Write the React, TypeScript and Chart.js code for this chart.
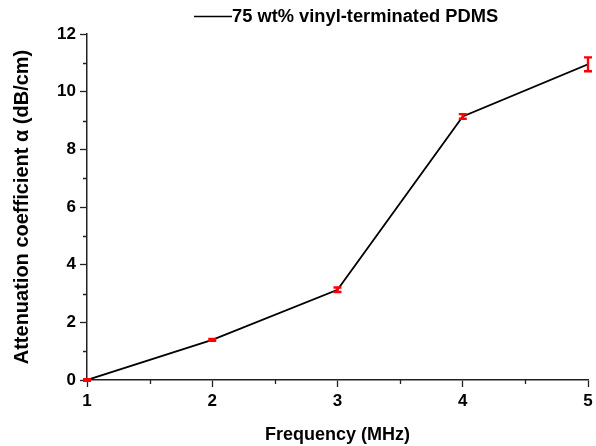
import React, { useEffect, useRef } from "react";
import { Chart, registerables } from "chart.js";

Chart.register(...registerables);

const frequencies = [1, 2, 3, 4, 5];
const attenuation = [0.0, 1.39, 3.13, 9.14, 10.95];
const errors = [0.03, 0.03, 0.08, 0.08, 0.24];
const xTicks = [1, 2, 3, 4, 5];
const yTicks = [0, 2, 4, 6, 8, 10, 12];
const legendLabel = "75 wt% vinyl-terminated PDMS";
const xTitle = "Frequency (MHz)";
const yTitle = "Attenuation coefficient \u03B1 (dB/cm)";

const FONT = "'Liberation Sans', Arial, sans-serif";

const errorBarPlugin = {
  id: "errorBars",
  afterDatasetsDraw(chart: any) {
    const ctx = chart.ctx;
    const xs = chart.scales.x;
    const ys = chart.scales.y;
    ctx.save();
    ctx.strokeStyle = "#ff0000";
    ctx.lineWidth = 2.4;
    frequencies.forEach((f, i) => {
      const px = xs.getPixelForValue(f);
      const top = ys.getPixelForValue(attenuation[i] + errors[i]);
      const bot = ys.getPixelForValue(attenuation[i] - errors[i]);
      ctx.beginPath();
      ctx.moveTo(px, top);
      ctx.lineTo(px, bot);
      ctx.moveTo(px - 4, top);
      ctx.lineTo(px + 4, top);
      ctx.moveTo(px - 4, bot);
      ctx.lineTo(px + 4, bot);
      ctx.stroke();
    });
    ctx.restore();
  },
};

const minorTickPlugin = {
  id: "minorTicks",
  afterDraw(chart: any) {
    const ctx = chart.ctx;
    const xs = chart.scales.x;
    const ys = chart.scales.y;
    const area = chart.chartArea;
    ctx.save();
    ctx.strokeStyle = "#222";
    ctx.lineWidth = 1.3;
    ctx.beginPath();
    for (let i = 0; i < xTicks.length - 1; i++) {
      const v = (xTicks[i] + xTicks[i + 1]) / 2;
      const px = Math.round(xs.getPixelForValue(v)) + 0.5;
      ctx.moveTo(px, area.bottom);
      ctx.lineTo(px, area.bottom + 4);
    }
    for (let i = 0; i < yTicks.length - 1; i++) {
      const v = (yTicks[i] + yTicks[i + 1]) / 2;
      const py = Math.round(ys.getPixelForValue(v)) + 0.5;
      ctx.moveTo(area.left, py);
      ctx.lineTo(area.left - 4, py);
    }
    ctx.stroke();
    // legend
    ctx.strokeStyle = "#000";
    ctx.lineWidth = 1.6;
    ctx.beginPath();
    ctx.moveTo(194, 16.5);
    ctx.lineTo(232, 16.5);
    ctx.stroke();
    ctx.fillStyle = "#000";
    ctx.font = `bold 18.3px ${FONT}`;
    ctx.textBaseline = "middle";
    ctx.textAlign = "left";
    ctx.fillText(legendLabel, 232, 17);
    ctx.restore();
  },
};

export default function App() {
  const ref = useRef<HTMLCanvasElement | null>(null);
  useEffect(() => {
    if (!ref.current) return;
    const chart = new Chart(ref.current, {
      type: "line",
      data: {
        datasets: [
          {
            label: legendLabel,
            data: frequencies.map((f, i) => ({ x: f, y: attenuation[i] })),
            borderColor: "#000",
            borderWidth: 1.8,
            pointRadius: 0,
            tension: 0,
            fill: false,
          },
        ],
      },
      options: {
        animation: false,
        responsive: false,
        devicePixelRatio: 1,
        layout: { padding: { left: 0, top: 34, right: 8, bottom: 0 } },
        plugins: { legend: { display: false }, tooltip: { enabled: false } },
        scales: {
          x: {
            type: "linear",
            min: 1,
            max: 5,
            afterBuildTicks: (s: any) => {
              s.ticks = xTicks.map((v) => ({ value: v }));
            },
            afterFit: (s: any) => {
              s.height = 66;
              s.paddingLeft = 0;
              s.paddingRight = 0;
            },
            grid: {
              drawOnChartArea: false,
              drawTicks: true,
              tickLength: 7,
              tickColor: "#222",
              tickWidth: 1.3,
            },
            border: { color: "#222", width: 1.5 },
            ticks: {
              color: "#000",
              padding: 4,
              font: { family: FONT, size: 17, weight: "bold" },
              maxRotation: 0,
            },
            title: {
              display: true,
              text: xTitle,
              color: "#000",
              font: { family: FONT, size: 18, weight: "bold" },
              padding: { top: 0, bottom: 0 },
            },
          },
          y: {
            type: "linear",
            min: 0,
            max: 12,
            afterBuildTicks: (s: any) => {
              s.ticks = yTicks.map((v) => ({ value: v }));
            },
            afterFit: (s: any) => {
              s.width = 87;
              s.paddingTop = 0;
              s.paddingBottom = 0;
            },
            grid: {
              drawOnChartArea: false,
              drawTicks: true,
              tickLength: 7,
              tickColor: "#222",
              tickWidth: 1.3,
            },
            border: { color: "#222", width: 1.5 },
            ticks: {
              color: "#000",
              padding: 4,
              font: { family: FONT, size: 17, weight: "bold" },
            },
            title: {
              display: true,
              text: yTitle,
              color: "#000",
              font: { family: FONT, size: 20, weight: "bold" },
              padding: { top: 10, bottom: 0 },
            },
          },
        },
      },
      plugins: [errorBarPlugin, minorTickPlugin],
    } as any);
    return () => chart.destroy();
  }, []);
  return (
    <div style={{ position: "absolute", left: 0, top: 0, width: 596, height: 446, background: "#fff" }}>
      <canvas ref={ref} width={596} height={446} style={{ width: 596, height: 446 }} />
    </div>
  );
}
